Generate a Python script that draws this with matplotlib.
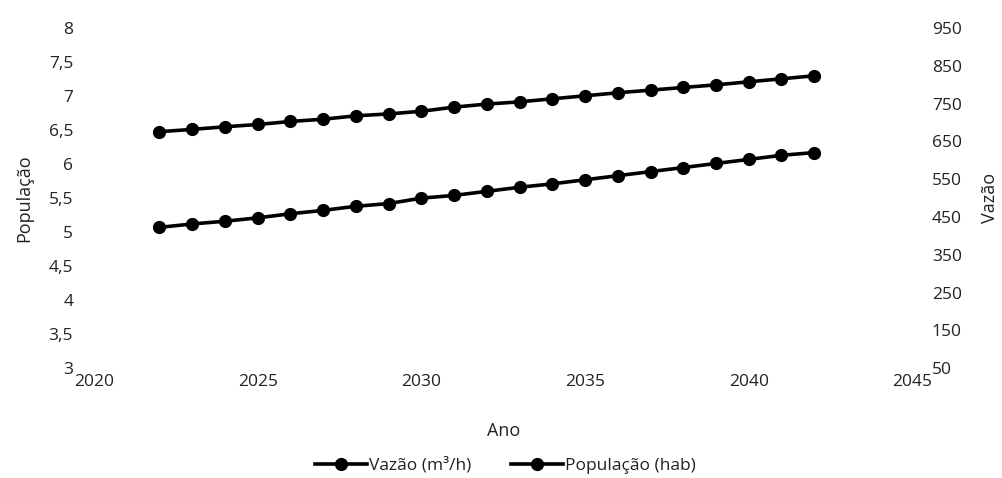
"""Vazão e População projetadas, 2022-2042 (eixos duplos)."""
import matplotlib.pyplot as plt
from matplotlib.ticker import FuncFormatter

YEARS = list(range(2022, 2043))
POPULACAO = [5.07, 5.12, 5.16, 5.21, 5.27, 5.32, 5.38, 5.42, 5.50, 5.54, 5.60,
             5.66, 5.71, 5.77, 5.83, 5.89, 5.95, 6.01, 6.07, 6.13, 6.17]
VAZAO = [676, 682, 689, 695, 703, 709, 718, 723, 730, 741, 749,
         755, 763, 771, 779, 786, 793, 800, 808, 816, 824]

X_TICKS = [2020, 2025, 2030, 2035, 2040, 2045]
LEFT_TICKS = [3, 3.5, 4, 4.5, 5, 5.5, 6, 6.5, 7, 7.5, 8]
RIGHT_TICKS = [50, 150, 250, 350, 450, 550, 650, 750, 850, 950]

plt.rcParams["font.family"] = ["Open Sans", "DejaVu Sans"]
FS = 12.5
TXT = "#222222"

fig = plt.figure(figsize=(10.03, 4.78), dpi=100)
ax = fig.add_axes([0.0937, 0.230, 0.816, 0.711])
ax2 = ax.twinx()

style = dict(color="black", lw=2.6, marker="o", ms=8.5)
l2, = ax2.plot(YEARS, VAZAO, label="Vazão (m³/h)", **style)
l1, = ax.plot(YEARS, POPULACAO, label="População (hab)", **style)

ax.set_xlim(2020, 2045)
ax.set_ylim(3, 8)
ax2.set_ylim(50, 950)
ax.set_xticks(X_TICKS)
ax.set_yticks(LEFT_TICKS)
ax2.set_yticks(RIGHT_TICKS)
ax.yaxis.set_major_formatter(FuncFormatter(lambda v, _: f"{v:g}".replace(".", ",")))

for a in (ax, ax2):
    for s in a.spines.values():
        s.set_visible(False)
ax.tick_params(axis="y", length=0, pad=15, labelsize=FS, labelcolor=TXT)
ax.tick_params(axis="x", length=0, pad=4, labelsize=FS, labelcolor=TXT)
ax2.tick_params(axis="y", length=0, pad=14, labelsize=FS, labelcolor=TXT)

ax.set_ylabel("População", fontsize=FS + 0.5, color=TXT, labelpad=11)
ax2.set_ylabel("Vazão", fontsize=FS + 0.5, color=TXT, labelpad=14)
ax.set_xlabel("Ano", fontsize=FS + 0.5, color=TXT, labelpad=23)

fig.legend(handles=[l2, l1], loc="center", bbox_to_anchor=(0.504, 0.026),
           ncol=2, frameon=False, fontsize=FS, handlelength=3.0,
           handletextpad=0.1, columnspacing=2.3, labelcolor=TXT)

fig.savefig("out.png", dpi=100)
